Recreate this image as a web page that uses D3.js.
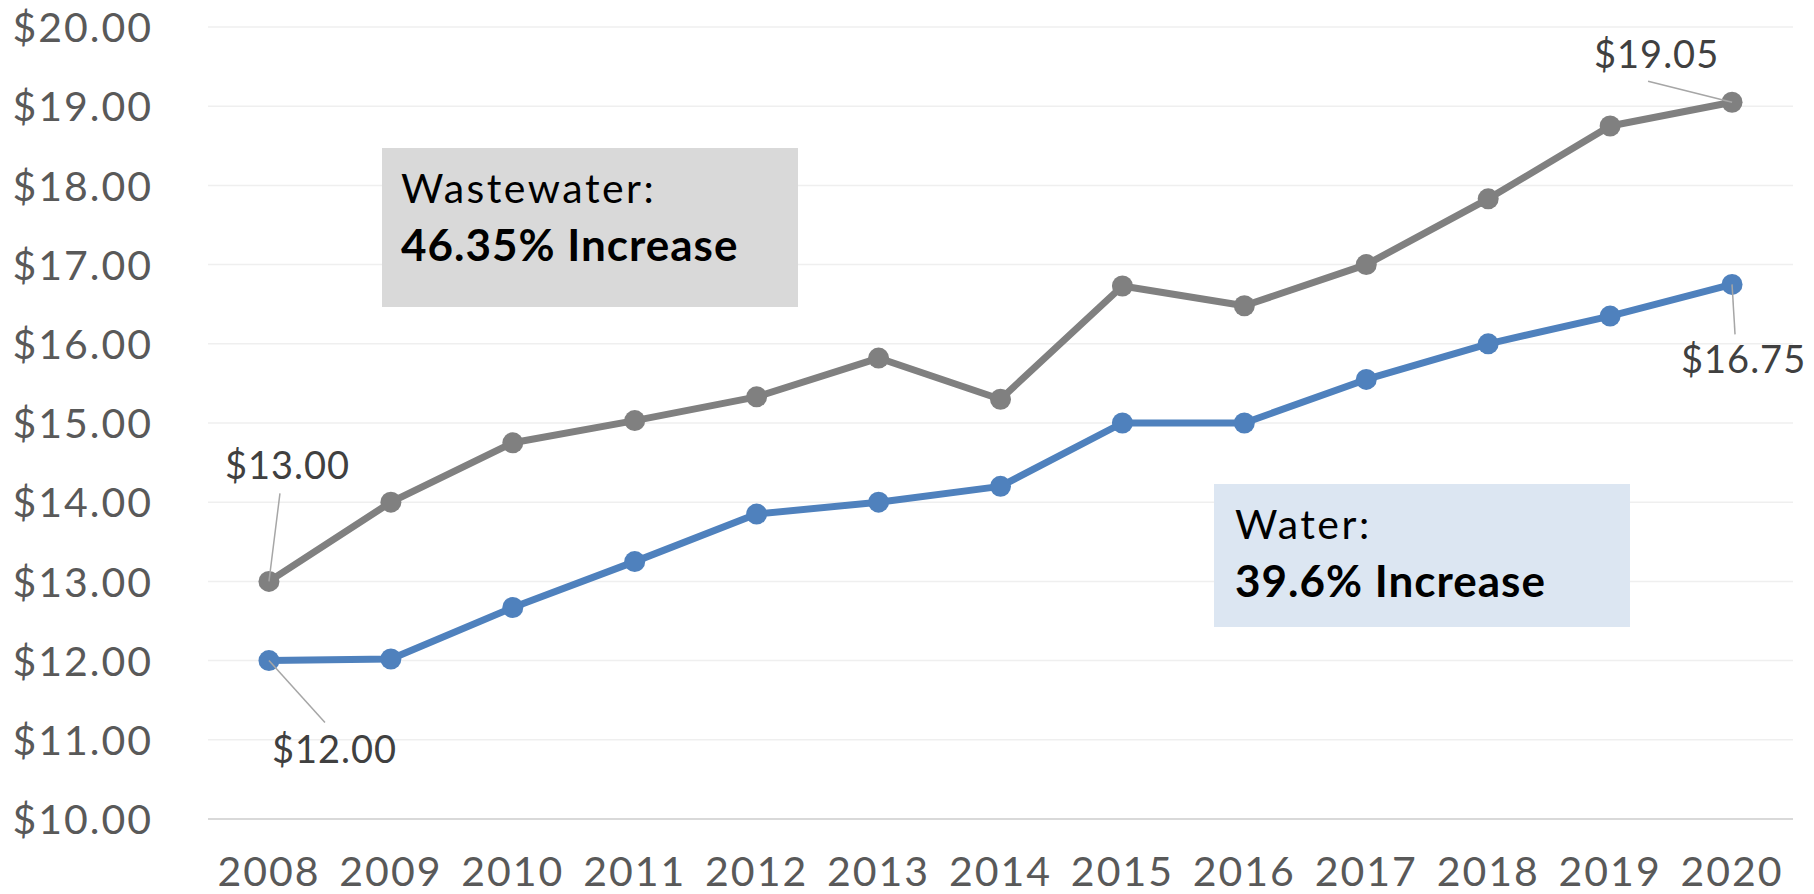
<!DOCTYPE html>
<html>
<head>
<meta charset="utf-8">
<script src="https://cdn.jsdelivr.net/npm/d3@7"></script>
<style>
  html, body { margin: 0; padding: 0; background: #fff; }
  svg { display: block; font-family: Lato, "Open Sans", sans-serif; }
</style>
</head>
<body>
<svg id="chart" width="1814" height="894"></svg>
<script>
// Monthly rates, 2008–2020
const years = ["2008","2009","2010","2011","2012","2013","2014","2015","2016","2017","2018","2019","2020"];
const water = [12.00, 12.02, 12.67, 13.25, 13.85, 14.00, 14.20, 15.00, 15.00, 15.55, 16.00, 16.35, 16.75];
const wastewater = [13.00, 14.00, 14.75, 15.03, 15.33, 15.82, 15.30, 16.73, 16.48, 17.00, 17.83, 18.75, 19.05];
const yTicks = [10, 11, 12, 13, 14, 15, 16, 17, 18, 19, 20];

const boxTitles = ["Wastewater:", "Water:"];
const boxHeadlines = ["46.35% Increase", "39.6% Increase"];

const svg = d3.select("#chart");
const plot = { left: 208, right: 1793, top: 27, bottom: 819 };

const x = d3.scaleBand().domain(years).range([plot.left, plot.right]).paddingInner(0).paddingOuter(0);
const y = d3.scaleLinear().domain([10, 20]).range([plot.bottom, plot.top]);
const cx = d => x(d) + x.bandwidth() / 2;

const money = d3.format("$.2f");

// horizontal gridlines
svg.append("g")
  .selectAll("line")
  .data(yTicks.filter(t => t !== 10))
  .join("line")
  .attr("x1", plot.left).attr("x2", plot.right)
  .attr("y1", d => y(d)).attr("y2", d => y(d))
  .attr("stroke", "#EFEFEF").attr("stroke-width", 1.5);

// y axis labels
const yAxis = d3.axisLeft(y).tickValues(yTicks).tickFormat(money).tickSize(0).tickPadding(0);
const gy = svg.append("g").attr("transform", `translate(153,0)`).call(yAxis);
gy.select(".domain").remove();
gy.selectAll("text")
  .attr("font-family", "Lato, sans-serif")
  .attr("font-size", 41)
  .attr("fill", "#595959")
  .attr("dy", "0.36em")
  .attr("letter-spacing", "2");

// category axis along the $10 baseline
const xAxis = d3.axisBottom(x).tickSize(0).tickPadding(0);
const gx = svg.append("g").attr("transform", `translate(0,${plot.bottom})`).call(xAxis);
gx.select(".domain").attr("stroke", "#D9D9D9").attr("stroke-width", 2)
  .attr("d", `M${plot.left},0H${plot.right}`);
gx.selectAll("text")
  .attr("font-family", "Lato, sans-serif")
  .attr("font-size", 41)
  .attr("fill", "#595959")
  .attr("y", 67)
  .attr("dy", 0)
  .attr("letter-spacing", "2");

// annotation boxes
const boxes = [
  { x0: 382, y0: 148, x1: 798, y1: 307, fill: "#D9D9D9", tx: 401, b1: 203, b2: 261 },
  { x0: 1214, y0: 484, x1: 1630, y1: 627, fill: "#DCE6F2", tx: 1235, b1: 539, b2: 597 }
];
boxes.forEach((b, i) => {
  svg.append("rect")
    .attr("x", b.x0).attr("y", b.y0)
    .attr("width", b.x1 - b.x0).attr("height", b.y1 - b.y0)
    .attr("fill", b.fill);
  svg.append("text")
    .attr("x", b.tx).attr("y", b.b1)
    .attr("font-size", 41).attr("fill", "#000")
    .attr("letter-spacing", "2.5")
    .text(boxTitles[i]);
  svg.append("text")
    .attr("x", b.tx).attr("y", b.b2)
    .attr("font-size", 44).attr("font-weight", "bold").attr("fill", "#000")
    .attr("letter-spacing", "1")
    .text(boxHeadlines[i]);
});

// series lines and markers
const series = [
  { name: "Wastewater", values: wastewater, color: "#808080" },
  { name: "Water", values: water, color: "#4F81BD" }
];
const line = d3.line().x(d => cx(d.year)).y(d => y(d.value));

series.forEach(s => {
  const pts = years.map((yr, i) => ({ year: yr, value: s.values[i] }));
  const g = svg.append("g");
  g.append("path")
    .datum(pts)
    .attr("d", line)
    .attr("fill", "none")
    .attr("stroke", s.color)
    .attr("stroke-width", 7)
    .attr("stroke-linejoin", "round");
  g.selectAll("circle")
    .data(pts)
    .join("circle")
    .attr("cx", d => cx(d.year))
    .attr("cy", d => y(d.value))
    .attr("r", 10.5)
    .attr("fill", s.color);
});

// value callouts on first and last points (label offset from point, leader start offset)
const callouts = [
  { values: wastewater, idx: 0, lx: -44, ly: -102, ex: 11, ey: -88 },
  { values: water, idx: 0, lx: 3, ly: 102, ex: 56, ey: 62 },
  { values: wastewater, idx: 12, lx: -138, ly: -34, ex: -84, ey: -21 },
  { values: water, idx: 12, lx: -51, ly: 89, ex: 3, ey: 50 }
];
callouts.forEach(c => {
  const px = cx(years[c.idx]), py = y(c.values[c.idx]);
  svg.append("line")
    .attr("x1", px + c.ex).attr("y1", py + c.ey)
    .attr("x2", px).attr("y2", py)
    .attr("stroke", "#A6A6A6").attr("stroke-width", 1.5);
  svg.append("text")
    .attr("x", px + c.lx).attr("y", py + c.ly)
    .attr("font-size", 38).attr("fill", "#404040")
    .attr("letter-spacing", "1")
    .text(money(c.values[c.idx]));
});
</script>
</body>
</html>
